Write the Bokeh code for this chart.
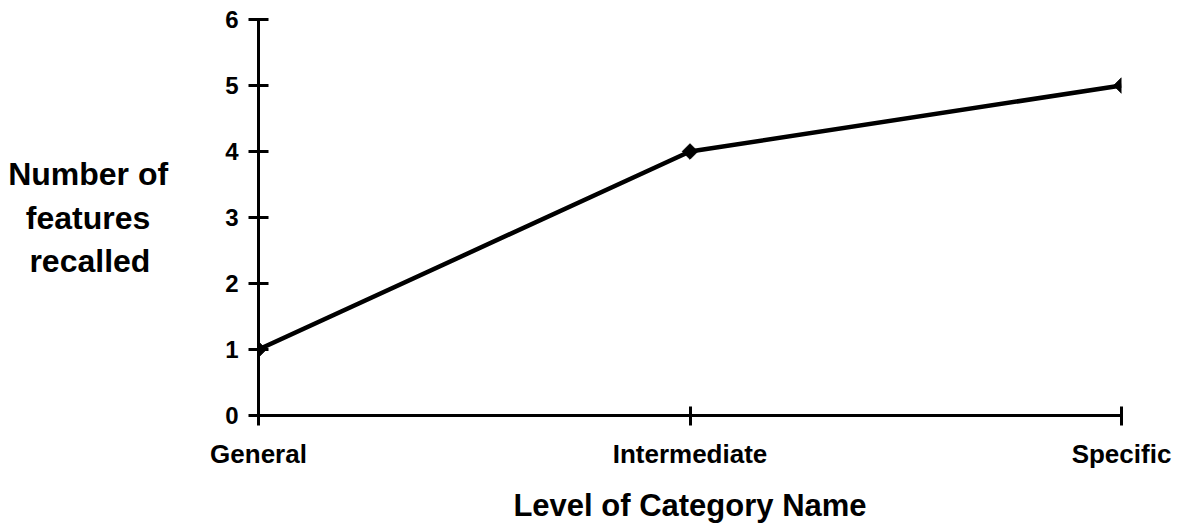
from bokeh.plotting import figure
from bokeh.models import Range1d, FixedTicker
from bokeh.embed import file_html
from bokeh.resources import INLINE
import numpy as np

categories = ["General", "Intermediate", "Specific"]
features_recalled = [1, 4, 5]
y_ticks = [0, 1, 2, 3, 4, 5, 6]
x_title = "Level of Category Name"
# non-breaking spaces centre the shorter lines under "Number of"
y_title = "Number of\nfeatures\u00a0\u00a0\nrecalled\u00a0\u00a0"

FONT = "Liberation Sans"
xs = list(range(len(categories)))

p = figure(width=1179, height=525, output_backend="svg", toolbar_location=None,
           x_range=Range1d(0, len(categories) - 1), y_range=Range1d(0, 6))
p.min_border_left = 258
p.min_border_right = 58
p.min_border_top = 19
p.min_border_bottom = 108
p.outline_line_color = None
p.xgrid.visible = False
p.ygrid.visible = False
p.background_fill_color = "white"
p.border_fill_color = "white"

p.line(xs, features_recalled, line_width=4.5, line_color="black")
p.scatter(xs, features_recalled, marker="square", angle=np.pi / 4, size=11,
          fill_color="black", line_color="black")

# x axis
xa = p.xaxis[0]
xa.ticker = FixedTicker(ticks=xs)
xa.major_label_overrides = {i: c for i, c in enumerate(categories)}
xa.axis_line_width = 3
xa.major_tick_line_width = 3
xa.major_tick_in = 9
xa.major_tick_out = 10
xa.minor_tick_line_color = None
xa.major_label_text_font = FONT
xa.major_label_text_font_style = "bold"
xa.major_label_text_font_size = "26px"
xa.major_label_text_color = "black"
xa.major_label_standoff = 13
xa.axis_label = x_title
xa.axis_label_text_font = FONT
xa.axis_label_text_font_style = "bold"
xa.axis_label_text_font_size = "31px"
xa.axis_label_text_color = "black"
xa.axis_label_standoff = 16

# y axis
ya = p.yaxis[0]
ya.ticker = FixedTicker(ticks=y_ticks)
ya.axis_line_width = 3
ya.major_tick_line_width = 3
ya.major_tick_in = 10
ya.major_tick_out = 10
ya.minor_tick_line_color = None
ya.major_label_text_font = FONT
ya.major_label_text_font_style = "bold"
ya.major_label_text_font_size = "24px"
ya.major_label_text_color = "black"
ya.major_label_standoff = 10
ya.axis_label = y_title
ya.axis_label_orientation = "horizontal"
ya.axis_label_text_font = FONT
ya.axis_label_text_font_style = "bold"
ya.axis_label_text_font_size = "32px"
ya.axis_label_text_color = "black"
ya.axis_label_text_line_height = 1.2
ya.axis_label_text_align = "center"
ya.axis_label_standoff = 54

open("out.html", "w").write(file_html(p, INLINE))
